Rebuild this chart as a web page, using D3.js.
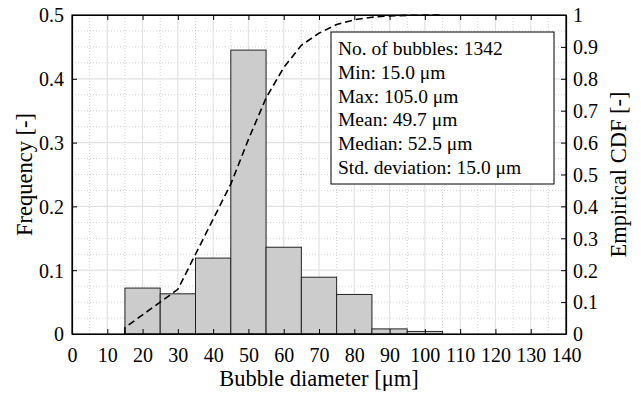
<!DOCTYPE html>
<html>
<head>
<script src="https://cdn.jsdelivr.net/npm/d3@7/dist/d3.min.js"></script>
<style>
    body { margin: 0; background: #fff; }
    svg text { font-family: "Liberation Serif", Tinos, "Times New Roman", Times, "DejaVu Serif", serif !important; fill: #000; }
</style>
</head>
<body>
<script>

    // histogram bins (lower edge, upper edge) and frequency
    var binStart = [15, 25, 35, 45, 55, 65, 75, 85, 95];
    var binEnd   = [25, 35, 45, 55, 65, 75, 85, 95, 105];
    var freq     = [0.072, 0.063, 0.119, 0.445, 0.136, 0.089, 0.062, 0.008, 0.004];

    // empirical CDF
    var cdfX = [15, 15, 20, 25, 30, 35, 40, 45, 50, 55, 60, 65, 70, 75, 80, 85, 90, 95, 105];
    var cdfY = [0, 0.02, 0.06, 0.10, 0.14, 0.25, 0.36, 0.47, 0.61, 0.74, 0.835, 0.905, 0.943, 0.97, 0.985, 0.993, 0.997, 0.999, 1.0];

    var xTicks = [0, 10, 20, 30, 40, 50, 60, 70, 80, 90, 100, 110, 120, 130, 140];
    var yTicks = [0, 0.1, 0.2, 0.3, 0.4, 0.5];
    var y2Ticks = [0, 0.1, 0.2, 0.3, 0.4, 0.5, 0.6, 0.7, 0.8, 0.9, 1];

    var statLines = [
        "No. of bubbles: 1342",
        "Min: 15.0 \u03bcm",
        "Max: 105.0 \u03bcm",
        "Mean: 49.7 \u03bcm",
        "Median: 52.5 \u03bcm",
        "Std. deviation: 15.0 \u03bcm"
    ];

    var width = 641, height = 394;
    var pLeft = 72, pRight = 566, pTop = 15, pBottom = 334;

    var x = d3.scaleLinear().domain([0, 140]).range([pLeft, pRight]);
    var y = d3.scaleLinear().domain([0, 0.5]).range([pBottom, pTop]);
    var y2 = d3.scaleLinear().domain([0, 1]).range([pBottom, pTop]);

    var svg = d3.select("body")
                .append("svg")
                .attr("width", width)
                .attr("height", height);

    // grid: minor dotted, major solid
    var grid = svg.append("g");
    grid.selectAll(".vminor")
        .data(d3.range(5, 140, 10))
        .enter().append("line")
        .attr("x1", d => x(d)).attr("x2", d => x(d))
        .attr("y1", pTop).attr("y2", pBottom)
        .attr("stroke", "#c8c8c8").attr("stroke-width", 0.8)
        .attr("stroke-dasharray", "1,2");
    grid.selectAll(".hminor")
        .data(d3.range(1, 20).filter(i => i % 4 != 0).map(i => i * 0.025))
        .enter().append("line")
        .attr("x1", pLeft).attr("x2", pRight)
        .attr("y1", d => y(d)).attr("y2", d => y(d))
        .attr("stroke", "#c8c8c8").attr("stroke-width", 0.8)
        .attr("stroke-dasharray", "1,2");
    grid.selectAll(".vmajor")
        .data(xTicks.slice(1, -1))
        .enter().append("line")
        .attr("x1", d => x(d)).attr("x2", d => x(d))
        .attr("y1", pTop).attr("y2", pBottom)
        .attr("stroke", "#e2e2e2").attr("stroke-width", 1.2);
    grid.selectAll(".hmajor")
        .data(yTicks.slice(1, -1))
        .enter().append("line")
        .attr("x1", pLeft).attr("x2", pRight)
        .attr("y1", d => y(d)).attr("y2", d => y(d))
        .attr("stroke", "#e2e2e2").attr("stroke-width", 1.2);

    // bars
    svg.selectAll(".bar")
       .data(freq)
       .enter()
       .append("rect")
       .attr("x", (d, i) => x(binStart[i]))
       .attr("width", (d, i) => x(binEnd[i]) - x(binStart[i]))
       .attr("y", d => y(d))
       .attr("height", d => pBottom - y(d))
       .attr("fill", "#cccccc")
       .attr("stroke", "#222")
       .attr("stroke-width", 1);

    // axes with inward ticks
    var gx = svg.append("g").attr("transform", "translate(0," + pBottom + ")")
                .call(d3.axisBottom(x).tickValues(xTicks).tickSizeInner(-5).tickSizeOuter(0).tickPadding(14));
    var gxTop = svg.append("g").attr("transform", "translate(0," + pTop + ")")
                   .call(d3.axisTop(x).tickValues(xTicks).tickSizeInner(-5).tickSizeOuter(0).tickFormat(""));
    var gy = svg.append("g").attr("transform", "translate(" + pLeft + ",0)")
                .call(d3.axisLeft(y).tickValues(yTicks).tickSizeInner(-5).tickSizeOuter(0).tickPadding(8)
                        .tickFormat(d => d == 0 ? "0" : d3.format(".1f")(d)));
    var gy2 = svg.append("g").attr("transform", "translate(" + pRight + ",0)")
                 .call(d3.axisRight(y2).tickValues(y2Ticks).tickSizeInner(-5).tickSizeOuter(0).tickPadding(7)
                         .tickFormat(d => (d == 0 || d == 1) ? d3.format("d")(d) : d3.format(".1f")(d)));

    [gx, gxTop, gy, gy2].forEach(g => {
        g.attr("font-family", null);
        g.selectAll("path").attr("stroke", "#000").attr("stroke-width", 1.2);
        g.selectAll(".tick line").attr("stroke", "#000").attr("stroke-width", 1);
        g.selectAll("text")
         .attr("font-size", 20)
         .attr("fill", "#000");
    });
    gx.selectAll("text").attr("dy", "0.71em");
    gy.selectAll("text").attr("dy", "0.34em");
    gy2.selectAll("text").attr("dy", "0.34em");

    svg.append("rect")
       .attr("x", pLeft).attr("y", pTop)
       .attr("width", pRight - pLeft).attr("height", pBottom - pTop)
       .attr("fill", "none").attr("stroke", "#000").attr("stroke-width", 1.2);

    // CDF dashed curve
    var line = d3.line()
                 .x((d, i) => x(cdfX[i]))
                 .y((d, i) => y2(cdfY[i]));
    svg.append("path")
       .datum(cdfY)
       .attr("d", line)
       .attr("fill", "none")
       .attr("stroke", "#000")
       .attr("stroke-width", 1.6)
       .attr("stroke-dasharray", "7,4");

    // stats box
    var box = svg.append("g");
    box.append("rect")
       .attr("x", 331).attr("y", 32)
       .attr("width", 223).attr("height", 152)
       .attr("fill", "#fff")
       .attr("stroke", "#000")
       .attr("stroke-width", 1);
    box.selectAll("text")
       .data(statLines)
       .enter()
       .append("text")
       .attr("x", 338)
       .attr("y", (d, i) => 55 + i * 23.8)
       .attr("font-size", 19.5)
       .text(d => d);

    // axis titles
    svg.append("text")
       .attr("x", (pLeft + pRight) / 2)
       .attr("y", 386)
       .attr("text-anchor", "middle")
       .attr("font-size", 22.5)
       .text("Bubble diameter [\u03bcm]");
    svg.append("text")
       .attr("transform", "translate(32," + (pTop + pBottom) / 2 + ") rotate(-90)")
       .attr("text-anchor", "middle")
       .attr("font-size", 22.5)
       .text("Frequency [-]");
    svg.append("text")
       .attr("transform", "translate(626," + (pTop + pBottom) / 2 + ") rotate(-90)")
       .attr("text-anchor", "middle")
       .attr("font-size", 22.5)
       .text("Empirical CDF [-]");

</script>
</body>
</html>
